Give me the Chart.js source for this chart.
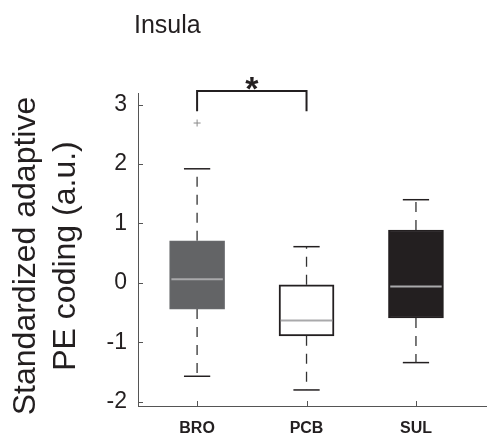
<!DOCTYPE html>
<html>
<head>
<meta charset="utf-8">
<script src="https://cdn.jsdelivr.net/npm/chart.js@4.4.0/dist/chart.umd.min.js"></script>
<style>
  body { margin: 0; background: #fff; }
  #wrap { width: 491px; height: 435px; }
</style>
</head>
<body>
<div id="wrap"><canvas id="boxChart" width="491" height="435"></canvas></div>
<script>
// data
const groups = ["BRO", "PCB", "SUL"];
const lowerWhisker = [-1.57, -1.80, -1.34];
const q1 = [-0.44, -0.89, -0.59];
const median = [0.06, -0.63, -0.06];
const q3 = [0.71, -0.03, 0.89];
const upperWhisker = [1.92, 0.61, 1.40];
const outliers = [[2.69], [], []];
const yTicks = [-2, -1, 0, 1, 2, 3];

// significance bracket between BRO and PCB
const sigPair = [0, 1];
const sigLevels = [2.89, 3.23];
const sigLabel = "*";

const boxFill = ["#636466", "#ffffff", "#231f20"];
const boxEdge = ["#66676a", "#231f20", "#231f20"];
const FONT = "'Liberation Sans', Arial, Helvetica, sans-serif";

function segment(x0, y0, x1, y1) {
  return [{ x: x0, y: y0 }, { x: x1, y: y1 }];
}

const datasets = [];

// medians on top
groups.forEach((g, i) => {
  datasets.push({
    type: "line",
    data: segment(i - 0.235, median[i], i + 0.235, median[i]),
    borderColor: "#a9a9ab",
    borderWidth: 2,
    pointRadius: 0,
    order: 0,
  });
});

// boxes (floating bars)
datasets.push({
  type: "bar",
  data: groups.map((g, i) => ({ x: i, y: [q1[i], q3[i]] })),
  backgroundColor: boxFill,
  borderColor: boxEdge,
  borderWidth: [1.5, 2, 1.5],
  borderSkipped: false,
  barThickness: 55,
  order: 2,
});

// whiskers + caps
groups.forEach((g, i) => {
  datasets.push({
    type: "line",
    data: segment(i, q3[i], i, upperWhisker[i]),
    borderColor: "#333",
    borderWidth: 1.3,
    borderDash: [10, 8],
    pointRadius: 0,
    order: 3,
  });
  datasets.push({
    type: "line",
    data: segment(i, q1[i], i, lowerWhisker[i]),
    borderColor: "#333",
    borderWidth: 1.3,
    borderDash: [10, 8],
    pointRadius: 0,
    order: 3,
  });
  [upperWhisker[i], lowerWhisker[i]].forEach((v) => {
    datasets.push({
      type: "line",
      data: segment(i - 0.12, v, i + 0.12, v),
      borderColor: "#231f20",
      borderWidth: 1.5,
      pointRadius: 0,
      order: 3,
    });
  });
});

// outliers
datasets.push({
  type: "scatter",
  data: outliers.flatMap((arr, i) => arr.map((v) => ({ x: i, y: v }))),
  pointStyle: "cross",
  pointRadius: 3.5,
  borderColor: "#8a8a8a",
  borderWidth: 1,
  order: 1,
});

// significance bracket
datasets.push({
  type: "line",
  data: [
    { x: sigPair[0], y: sigLevels[0] },
    { x: sigPair[0], y: sigLevels[1] },
    { x: sigPair[1], y: sigLevels[1] },
    { x: sigPair[1], y: sigLevels[0] },
  ],
  borderColor: "#231f20",
  borderWidth: 2,
  pointRadius: 0,
  clip: false,
  order: 0,
});

// small tick marks pointing into the plot, like MATLAB
const innerTicks = {
  id: "innerTicks",
  afterDraw(chart) {
    const { ctx, chartArea, scales } = chart;
    ctx.save();
    ctx.strokeStyle = "#555";
    ctx.lineWidth = 1;
    ctx.beginPath();
    scales.y.ticks.forEach((t) => {
      const py = Math.round(scales.y.getPixelForValue(t.value)) + 0.5;
      ctx.moveTo(chartArea.left, py);
      ctx.lineTo(chartArea.left + 5, py);
    });
    scales.x.ticks.forEach((t) => {
      const px = Math.round(scales.x.getPixelForValue(t.value)) + 0.5;
      ctx.moveTo(px, chartArea.bottom);
      ctx.lineTo(px, chartArea.bottom - 5);
    });
    ctx.stroke();
    ctx.restore();
  },
};

// title, y label and significance star
const texts = {
  id: "texts",
  afterDraw(chart) {
    const { ctx, scales } = chart;
    ctx.save();
    ctx.fillStyle = "#231f20";
    ctx.font = "25px " + FONT;
    ctx.textAlign = "left";
    ctx.textBaseline = "alphabetic";
    ctx.fillText("Insula", 134, 33);

    ctx.save();
    ctx.translate(0, 256);
    ctx.rotate(-Math.PI / 2);
    ctx.font = "32px " + FONT;
    ctx.textAlign = "center";
    ctx.fillText("Standardized adaptive", 0, 35);
    ctx.fillText("PE coding (a.u.)", 0, 75);
    ctx.restore();

    ctx.font = "bold 34px " + FONT;
    ctx.textAlign = "center";
    const sx = scales.x.getPixelForValue((sigPair[0] + sigPair[1]) / 2);
    const sy = scales.y.getPixelForValue(sigLevels[1]);
    ctx.fillText(sigLabel, sx, sy + 9);
    ctx.restore();
  },
};

new Chart(document.getElementById("boxChart"), {
  type: "bar",
  data: { datasets },
  options: {
    responsive: false,
    animation: false,
    layout: { padding: { top: 93, left: 0, right: 0, bottom: 0 } },
    plugins: { legend: { display: false }, tooltip: { enabled: false } },
    scales: {
      x: {
        type: "linear",
        min: -0.54,
        max: 2.64,
        offset: false,
        grid: { display: false, drawTicks: false, offset: false },
        border: { display: true, color: "#555", width: 1 },
        afterBuildTicks: (scale) => {
          scale.ticks = groups.map((g, i) => ({ value: i }));
        },
        afterFit: (scale) => { scale.height = 29; },
        ticks: {
          padding: 13,
          color: "#231f20",
          font: { family: FONT, size: 16, weight: "bold" },
          callback: (v) => groups[v],
        },
      },
      y: {
        type: "linear",
        min: -2.07,
        max: 3.195,
        grid: { display: false, drawTicks: false },
        border: { display: true, color: "#555", width: 1 },
        afterBuildTicks: (scale) => {
          scale.ticks = yTicks.map((v) => ({ value: v }));
        },
        afterFit: (scale) => { scale.width = 138; },
        ticks: {
          padding: 11,
          color: "#231f20",
          font: { family: FONT, size: 23 },
        },
      },
    },
  },
  plugins: [innerTicks, texts],
});
</script>
</body>
</html>
